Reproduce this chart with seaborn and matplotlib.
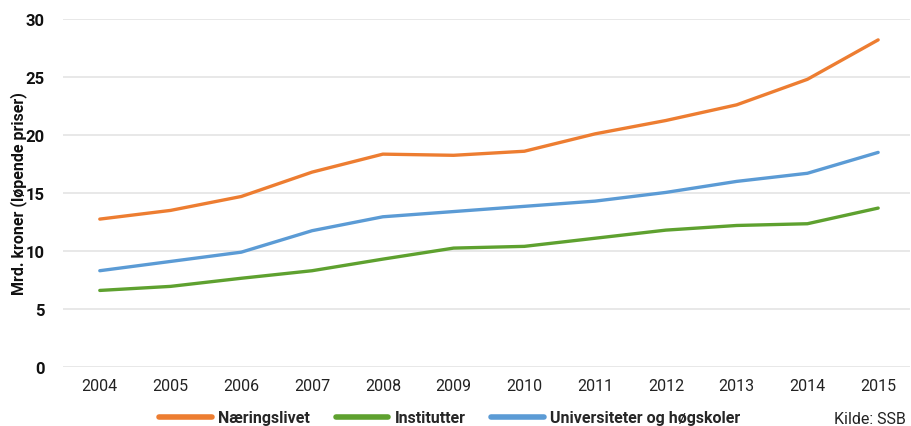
import matplotlib
matplotlib.use("Agg")
import matplotlib.pyplot as plt
import pandas as pd
import seaborn as sns

# --- data ---
YEARS = [2004, 2005, 2006, 2007, 2008, 2009, 2010, 2011, 2012, 2013, 2014, 2015]
NAERINGSLIVET = [12.75, 13.5, 14.7, 16.8, 18.35, 18.25, 18.6, 20.1, 21.25, 22.6, 24.8, 28.2]
INSTITUTTER = [6.6, 6.95, 7.65, 8.3, 9.3, 10.25, 10.4, 11.1, 11.8, 12.2, 12.35, 13.7]
UNIVERSITETER = [8.3, 9.1, 9.9, 11.75, 12.95, 13.4, 13.85, 14.3, 15.05, 16.0, 16.7, 18.5]
SERIES = ["Næringslivet", "Institutter", "Universiteter og høgskoler"]
COLORS = ["#ED7D31", "#5EA12F", "#5B9BD5"]

sns.set_theme(style="white")
plt.rcParams["font.family"] = ["Roboto", "DejaVu Sans"]

df = pd.DataFrame({"år": YEARS, SERIES[0]: NAERINGSLIVET,
                   SERIES[1]: INSTITUTTER, SERIES[2]: UNIVERSITETER})
long = df.melt(id_vars="år", var_name="serie", value_name="verdi")

fig = plt.figure(figsize=(9.11, 4.27), dpi=100)
ax = fig.add_axes([63 / 911, 1 - 368 / 427, (910 - 63) / 911, (368 - 20) / 427])

sns.lineplot(data=long, x="år", y="verdi", hue="serie", hue_order=SERIES,
             palette=COLORS, linewidth=2.4, ax=ax, legend=True)

ax.set_xlim(2003.48, 2015.45)
ax.set_ylim(0, 30)
ax.set_xticks(YEARS)
ax.set_xticklabels([str(y) for y in YEARS], fontsize=11.5, color="#222222")
ax.set_yticks([0, 5, 10, 15, 20, 25, 30])
ax.set_yticklabels(["0", "5", "10", "15", "20", "25", "30"], fontsize=12,
                   fontweight="bold", color="#111111")
ax.tick_params(axis="x", length=0, pad=8)
ax.tick_params(axis="y", length=0, pad=13)
ax.yaxis.grid(True, color="#e4e4e4", linewidth=1.2)
ax.set_axisbelow(True)
for s in ax.spines.values():
    s.set_visible(False)
ax.set_xlabel("")
ax.set_ylabel("Mrd. kroner (løpende priser)", fontsize=11.5, fontweight="bold",
              color="#111111")
ax.yaxis.set_label_coords(-36 / 847, 0.5)

handles, labels = ax.get_legend_handles_labels()
ax.legend(handles, labels, loc="center", bbox_to_anchor=(450 / 911, 1 - 419 / 427),
          bbox_transform=fig.transFigure, ncol=3, frameon=False,
          prop={"weight": "bold", "size": 11.5}, handlelength=3.3,
          columnspacing=1.6, handletextpad=0.4, borderpad=0)
for line in ax.get_legend().get_lines():
    line.set_linewidth(4)

fig.text(906 / 911, 1 - 420 / 427, "Kilde: SSB", ha="right", va="center",
         fontsize=11.5, color="#222222")

fig.savefig("out.png", dpi=100)
